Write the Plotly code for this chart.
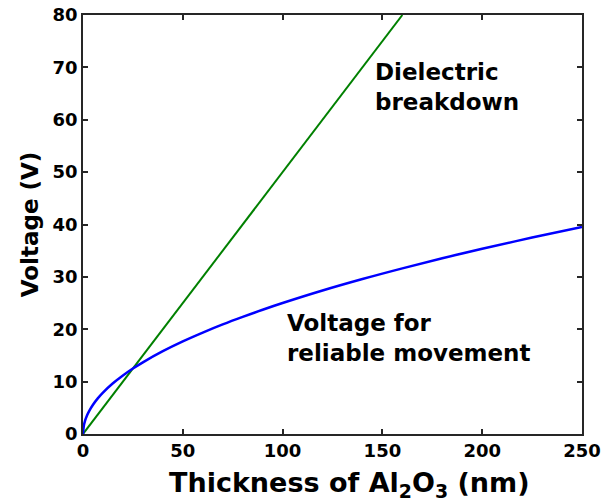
import plotly.graph_objects as go

# Data
thickness_breakdown = [0, 160]
voltage_breakdown = [0, 80]

thickness_move = [0, 0.5, 1, 2, 3, 5, 7.5, 10, 15, 20, 25, 30, 40, 50, 60, 70, 80, 90,
                  100, 120, 140, 160, 180, 200, 225, 250]
voltage_move = [0, 1.77, 2.5, 3.54, 4.33, 5.59, 6.85, 7.91, 9.68, 11.18, 12.5, 13.69,
                15.81, 17.68, 19.36, 20.92, 22.36, 23.72, 25.0, 27.39, 29.58, 31.62,
                33.54, 35.36, 37.5, 39.53]

x_ticks = [0, 50, 100, 150, 200, 250]
y_ticks = [0, 10, 20, 30, 40, 50, 60, 70, 80]

FONT = "DejaVu Sans, sans-serif"

fig = go.Figure()
fig.add_trace(go.Scatter(x=thickness_breakdown, y=voltage_breakdown, mode="lines",
                         line=dict(color="#008000", width=2), showlegend=False))
fig.add_trace(go.Scatter(x=thickness_move, y=voltage_move, mode="lines",
                         line=dict(color="#0000FF", width=2.5, shape="spline"),
                         showlegend=False))

axis_common = dict(showline=True, linecolor="#262626", linewidth=1.5, mirror="ticks",
                   ticks="inside", ticklen=5, tickwidth=1.5, tickcolor="#262626",
                   showgrid=False, zeroline=False, automargin=False,
                   tickfont=dict(family=FONT, size=18, color="black", weight="bold"))

fig.update_layout(
    width=603, height=504,
    margin=dict(l=83, r=21, t=15, b=70),
    paper_bgcolor="white", plot_bgcolor="white",
    xaxis=dict(range=[0, 250], tickvals=x_ticks, **axis_common),
    yaxis=dict(range=[0, 80], tickvals=y_ticks, **axis_common,
               title=dict(text="Voltage (V)",
                          font=dict(family=FONT, size=23, color="black", weight="bold"),
                          standoff=8)),
    annotations=[
        dict(x=0.533, y=0, xref="paper", yref="paper", yshift=-31,
             text="<b>Thickness of Al<sub>2</sub>O<sub>3</sub> (nm)</b>",
             showarrow=False, xanchor="center", yanchor="top",
             font=dict(family=FONT, size=27, color="black")),
        dict(x=145.3, y=72, xref="x", yref="y", text="<b>Dielectric<br>breakdown</b>",
             showarrow=False, xanchor="left", yanchor="top", align="left",
             font=dict(family=FONT, size=23, color="black")),
        dict(x=101.2, y=24, xref="x", yref="y", text="<b>Voltage for<br>reliable movement</b>",
             showarrow=False, xanchor="left", yanchor="top", align="left",
             font=dict(family=FONT, size=23, color="black")),
    ],
)

fig.write_html("out.html")
